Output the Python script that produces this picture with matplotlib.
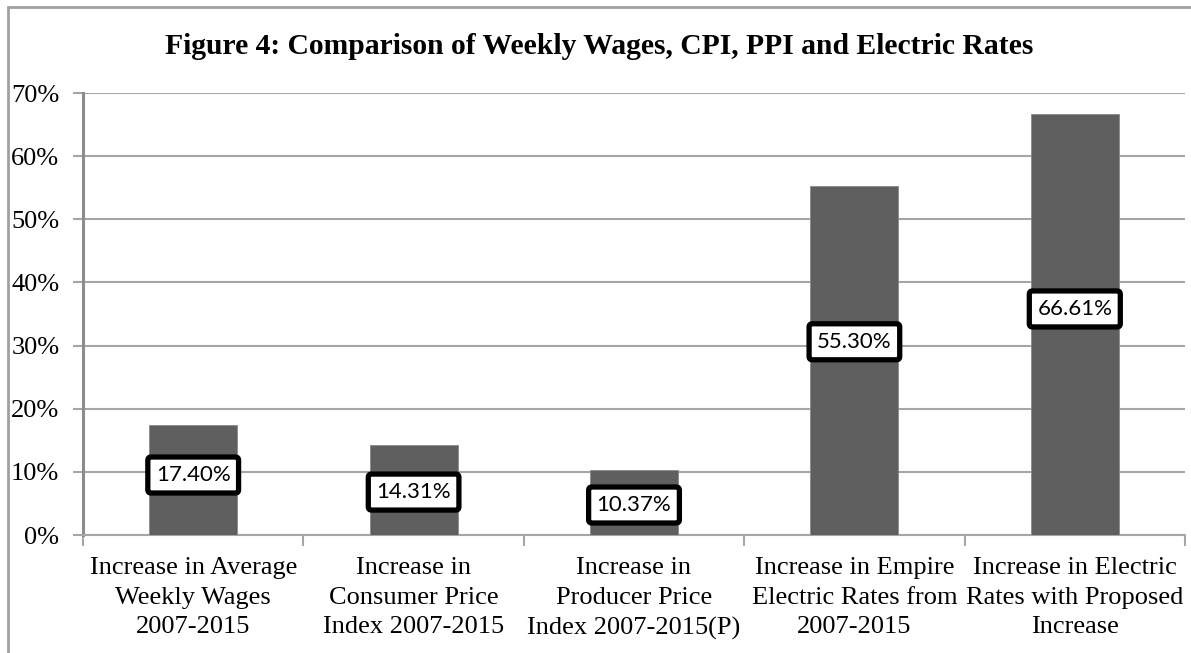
import numpy as np
import matplotlib.pyplot as plt
from matplotlib.patches import Rectangle

categories = ["Increase in Average\nWeekly Wages\n2007-2015",
              "Increase in\nConsumer Price\nIndex 2007-2015",
              "Increase in\nProducer Price\nIndex 2007-2015(P)",
              "Increase in Empire\nElectric Rates from\n2007-2015",
              "Increase in Electric\nRates with Proposed\nIncrease"]
values = [17.40, 14.31, 10.37, 55.30, 66.61]
# where the boxed labels sit (hand placed in the original)
label_pos = [9.5, 6.8, 4.75, 30.6, 35.8]

serif = "Liberation Serif"
grid_c = "#a6a6a6"

fig = plt.figure(figsize=(11.91, 6.53), dpi=100)
ax = fig.add_axes([83/1191, 118/653, 1102/1191, 442/653])

x = np.arange(len(values))
ax.bar(x, values, width=0.4, color="#5f5f5f", edgecolor="#8a8a8a", linewidth=0.6, zorder=3)

for xi, v, p in zip(x, values, label_pos):
    ax.text(xi, p, f"{v:.2f}%", ha="center", va="center", fontsize=16,
            family="Lato", zorder=5,
            bbox=dict(boxstyle="round,pad=0.36,rounding_size=0.15", fc="white",
                      ec="black", lw=3.8))

ax.set_xlim(-0.5, 4.5)
ax.set_ylim(0, 70)
ax.set_yticks(range(0, 71, 10))
ax.set_yticklabels([f"{t}%" for t in range(0, 71, 10)], family=serif, fontsize=19)
ax.set_xticks(x)
ax.set_xticklabels(categories, family=serif, fontsize=19, linespacing=1.44)
ax.set_xticks(np.arange(-0.5, 5, 1), minor=True)
ax.tick_params(axis="x", which="major", length=0, pad=16)
ax.tick_params(axis="x", which="minor", length=8, width=1.5, color=grid_c)
ax.tick_params(axis="y", length=7, width=1.5, color=grid_c, pad=10)

ax.grid(axis="y", color=grid_c, linewidth=1.5, zorder=0)
ax.set_axisbelow(True)
for s in ["top", "right"]:
    ax.spines[s].set_visible(False)
ax.spines["left"].set_color("#8c8c8c")
ax.spines["left"].set_linewidth(2.2)
ax.spines["bottom"].set_color(grid_c)
ax.spines["bottom"].set_linewidth(1.5)

fig.text(0.503, 1 - 46/653, "Figure 4: Comparison of Weekly Wages, CPI, PPI and Electric Rates",
         ha="center", va="center", family=serif, fontweight="bold", fontsize=21.3)

# outer frame of the original chart (cut off at right and bottom)
fig.patches.append(Rectangle((8/1191, -0.1), 1.2, 1.1 - 7/653, transform=fig.transFigure,
                             fill=False, ec="#a0a0a0", lw=2))

fig.savefig("out.png", dpi=100)
